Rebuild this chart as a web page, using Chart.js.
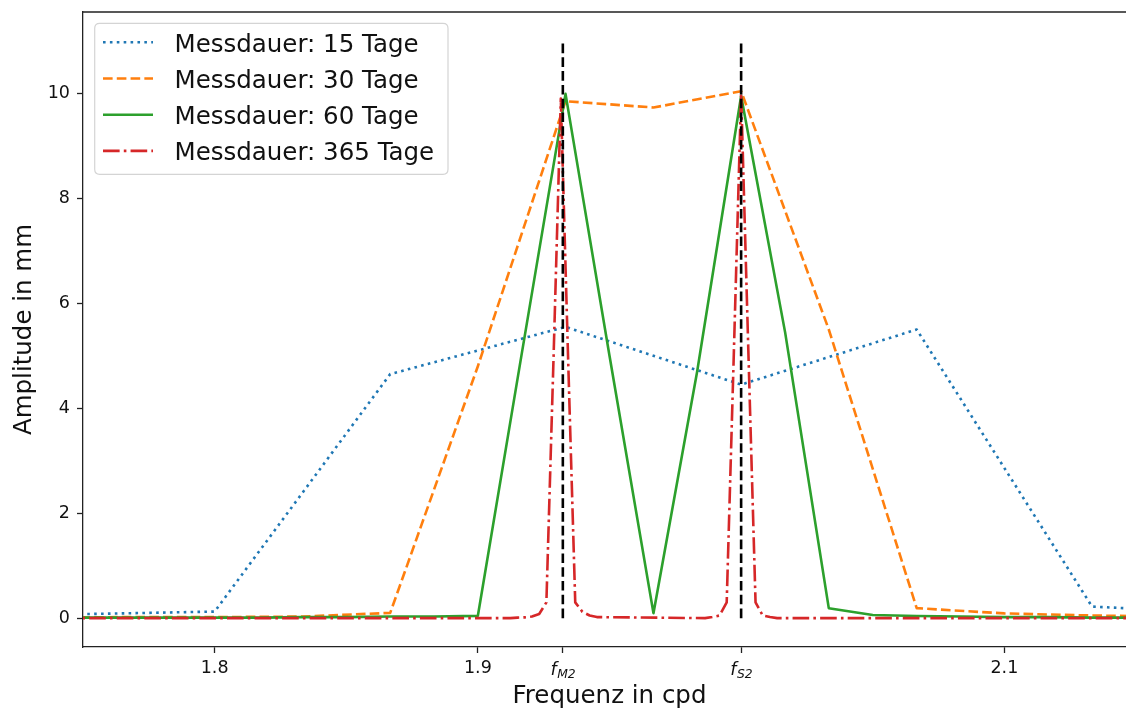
<!DOCTYPE html>
<html>
<head>
<meta charset="utf-8">
<title>Amplitudenspektrum</title>
<script src="https://cdn.jsdelivr.net/npm/chart.js@4.4.1/dist/chart.umd.min.js"></script>
<style>
  html, body { margin: 0; padding: 0; background: #fff; overflow: hidden; }
  #wrap { position: relative; width: 1150px; height: 711px; }
</style>
</head>
<body>
<div id="wrap"><canvas id="spectrum"></canvas></div>
<script>
// Amplitudenspektrum um M2/S2 für verschiedene Messdauern

const freq15 = [1.7333, 1.8, 1.8667, 1.9333, 2.0, 2.0667, 2.1333, 2.2];
const amp15  = [0.06, 0.125, 4.65, 5.55, 4.45, 5.5, 0.22, 0.06];

const freq30 = [1.7, 1.7333, 1.7667, 1.8, 1.8333, 1.8667, 1.9, 1.9333, 1.9667, 2.0, 2.0333, 2.0667, 2.1, 2.1333, 2.1667];
const amp30  = [0.01, 0.01, 0.02, 0.02, 0.03, 0.1, 4.8, 9.85, 9.73, 10.04, 5.5, 0.19, 0.09, 0.05, 0.03];

const freq60 = [1.75, 1.7667, 1.7833, 1.8, 1.8167, 1.8333, 1.85, 1.8667, 1.8833, 1.9, 1.9167, 1.9333, 1.95,
                1.9667, 1.9833, 2.0, 2.0167, 2.0333, 2.05, 2.0667, 2.0833, 2.1, 2.1167, 2.1333, 2.15];
const amp60  = [0.01, 0.01, 0.01, 0.01, 0.01, 0.02, 0.02, 0.03, 0.03, 0.044, 5.05, 9.99, 5.0,
                0.095, 4.7, 9.95, 5.45, 0.19, 0.06, 0.04, 0.03, 0.02, 0.02, 0.01, 0.01];

const freq365 = [1.70, 1.912329, 1.915068, 1.917808, 1.920548, 1.923288, 1.926027, 1.928767, 1.931507,
                 1.934247, 1.936986, 1.939726, 1.942466, 1.945205, 1.986301, 1.989041, 1.991781,
                 1.994521, 1.997260, 2.0, 2.002740, 2.005479, 2.008219, 2.010959, 2.013699, 2.20];
const amp365  = [0.0, 0.0, 0.01, 0.015, 0.03, 0.08, 0.3, 5.0, 9.9,
                 5.0, 0.3, 0.12, 0.05, 0.02, 0.0, 0.02, 0.05,
                 0.3, 5.1, 10.0, 5.1, 0.3, 0.05, 0.02, 0.0, 0.0];

const seriesLabels = ['Messdauer: 15 Tage', 'Messdauer: 30 Tage', 'Messdauer: 60 Tage', 'Messdauer: 365 Tage'];

// Tidenfrequenzen (cpd)
const F_M2 = 1.9322736;
const F_S2 = 2.0;
const tideFreqs = [F_M2, F_S2];
const tideNames = ['M2', 'S2'];
const markerTop = 11;

const xTickValues = [1.8, 1.9, F_M2, F_S2, 2.1];
const xTickLabels = ['1.8', '1.9', '', '', '2.1'];
const yTickValues = [0, 2, 4, 6, 8, 10];

const FONT = '"DejaVu Sans", "Liberation Sans", sans-serif';
const LW = 2.6;

const toPoints = (xs, ys) => xs.map((x, i) => ({ x: x, y: ys[i] }));

const series = [
  { label: seriesLabels[0], data: toPoints(freq15, amp15),   borderColor: '#1f77b4', borderDash: [LW, 1.65 * LW], order: 4 },
  { label: seriesLabels[1], data: toPoints(freq30, amp30),   borderColor: '#ff7f0e', borderDash: [3.7 * LW, 1.6 * LW], order: 3 },
  { label: seriesLabels[2], data: toPoints(freq60, amp60),   borderColor: '#2ca02c', borderDash: [], order: 2 },
  { label: seriesLabels[3], data: toPoints(freq365, amp365), borderColor: '#d62728', borderDash: [6.4 * LW, 1.6 * LW, LW, 1.6 * LW], order: 1 }
];

const markers = tideFreqs.map(f => ({
  label: '',
  data: [{ x: f, y: 0 }, { x: f, y: markerTop }],
  borderColor: '#000',
  borderDash: [3.7 * LW, 1.6 * LW],
  order: 0
}));

const datasets = series.concat(markers).map(d => Object.assign({
  borderWidth: LW,
  pointRadius: 0,
  pointHoverRadius: 0,
  tension: 0,
  fill: false,
  borderCapStyle: 'butt',
  borderJoinStyle: 'round'
}, d));

// Rahmen oben/rechts, Tiden-Beschriftung und Legende
const extras = {
  id: 'extras',
  afterDraw(chart) {
    const { ctx, chartArea: a } = chart;
    const xs = chart.scales.x;
    ctx.save();

    ctx.strokeStyle = '#222';
    ctx.lineWidth = 1.3;
    ctx.setLineDash([]);
    ctx.beginPath();
    ctx.moveTo(a.left, a.top);
    ctx.lineTo(a.right, a.top);
    ctx.lineTo(a.right, a.bottom);
    ctx.stroke();

    // f_M2, f_S2 mit tiefgestelltem Index
    ctx.fillStyle = '#111';
    ctx.textBaseline = 'alphabetic';
    ctx.textAlign = 'left';
    tideFreqs.forEach((f, i) => {
      const px = xs.getPixelForValue(f);
      ctx.font = 'italic 17.5px ' + FONT;
      const wf = ctx.measureText('f').width;
      ctx.font = 'italic 12.3px ' + FONT;
      const ws = ctx.measureText(tideNames[i]).width;
      const x0 = px - (wf + ws) / 2;
      const base = a.bottom + 28;
      ctx.font = 'italic 17.5px ' + FONT;
      ctx.fillText('f', x0, base);
      ctx.font = 'italic 12.3px ' + FONT;
      ctx.fillText(tideNames[i], x0 + wf + 0.5, base + 3.2);
    });

    // Legende
    const bx = 94.7, by = 23.3, bw = 353.3, bh = 151, r = 5;
    ctx.beginPath();
    ctx.moveTo(bx + r, by);
    ctx.lineTo(bx + bw - r, by);
    ctx.quadraticCurveTo(bx + bw, by, bx + bw, by + r);
    ctx.lineTo(bx + bw, by + bh - r);
    ctx.quadraticCurveTo(bx + bw, by + bh, bx + bw - r, by + bh);
    ctx.lineTo(bx + r, by + bh);
    ctx.quadraticCurveTo(bx, by + bh, bx, by + bh - r);
    ctx.lineTo(bx, by + r);
    ctx.quadraticCurveTo(bx, by, bx + r, by);
    ctx.closePath();
    ctx.fillStyle = 'rgba(255,255,255,0.8)';
    ctx.fill();
    ctx.strokeStyle = '#d4d4d4';
    ctx.lineWidth = 1.2;
    ctx.stroke();

    const rows = [42.3, 78.5, 114.7, 150.9];
    series.forEach((s, i) => {
      const y = rows[i];
      ctx.strokeStyle = s.borderColor;
      ctx.lineWidth = LW;
      ctx.lineCap = 'butt';
      ctx.setLineDash(s.borderDash);
      ctx.beginPath();
      ctx.moveTo(103, y);
      ctx.lineTo(153, y);
      ctx.stroke();
      ctx.setLineDash([]);
      ctx.fillStyle = '#111';
      ctx.font = '24.5px ' + FONT;
      ctx.fillText(s.label, 174.5, y + 9.2);
    });

    ctx.restore();
  }
};

new Chart(document.getElementById('spectrum'), {
  type: 'line',
  data: { datasets: datasets },
  options: {
    responsive: true,
    maintainAspectRatio: false,
    animation: false,
    events: [],
    layout: { padding: { top: 12, right: 14, left: 0, bottom: 0 } },
    plugins: {
      legend: { display: false },
      tooltip: { enabled: false }
    },
    scales: {
      x: {
        type: 'linear',
        min: 1.75,
        max: 2.15,
        afterFit: s => { s.height = 64; s.paddingLeft = 0; s.paddingRight = 0; },
        afterBuildTicks: s => { s.ticks = xTickValues.map(v => ({ value: v })); },
        ticks: {
          autoSkip: false,
          maxRotation: 0,
          padding: 5,
          color: '#111',
          font: { family: FONT, size: 17.5 },
          callback: (v, i) => xTickLabels[i]
        },
        grid: { drawOnChartArea: false, drawTicks: true, tickLength: 6, tickWidth: 1.3, tickColor: '#222' },
        border: { display: true, color: '#222', width: 1.3 },
        title: {
          display: true,
          text: 'Frequenz in cpd',
          color: '#111',
          font: { family: FONT, size: 24.5 },
          padding: { top: 0, bottom: 0 }
        }
      },
      y: {
        type: 'linear',
        min: -0.55,
        max: 11.55,
        afterFit: s => { s.width = 83; s.paddingTop = 0; s.paddingBottom = 0; },
        afterBuildTicks: s => { s.ticks = yTickValues.map(v => ({ value: v })); },
        ticks: {
          padding: 7,
          color: '#111',
          font: { family: FONT, size: 17.5 },
          callback: v => String(v)
        },
        grid: { drawOnChartArea: false, drawTicks: true, tickLength: 6, tickWidth: 1.3, tickColor: '#222' },
        border: { display: true, color: '#222', width: 1.3 },
        title: {
          display: true,
          text: 'Amplitude in mm',
          color: '#111',
          font: { family: FONT, size: 24.5 },
          padding: { top: 10, bottom: 0 }
        }
      }
    }
  },
  plugins: [extras]
});
</script>
</body>
</html>
